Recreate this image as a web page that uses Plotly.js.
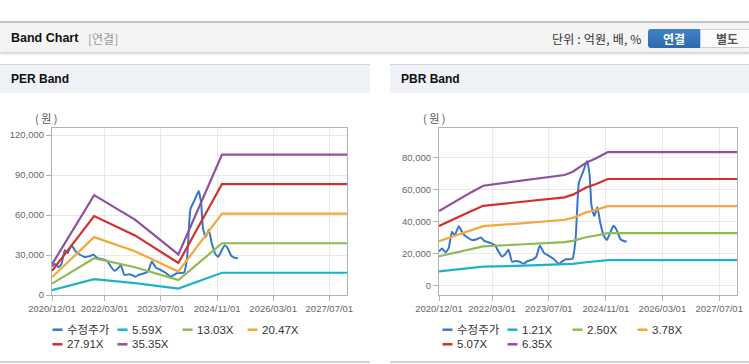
<!DOCTYPE html>
<html>
<head>
<meta charset="utf-8">
<script src="https://cdn.plot.ly/plotly-3.0.1.min.js"></script>
<style>
  html, body { margin:0; padding:0; background:#fff; }
  body { width:749px; height:364px; position:relative; overflow:hidden;
         font-family:"Liberation Sans","Noto Sans CJK KR",Arial,sans-serif; }
  .abs { position:absolute; }
  #topline { left:0; top:21px; width:749px; height:2px; background:#c4c4c4; }
  #hdr { left:0; top:23px; width:749px; height:29px; background:#f4f4f4;
         box-shadow:0 2px 2px rgba(0,0,0,0.18); }
  #hdrTitle { left:11px; top:31px; font-size:12.5px; font-weight:bold; color:#111; }
  #hdrSub { left:88px; top:31px; font-size:12px; color:#9a9a9a; font-family:"Noto Sans CJK KR",sans-serif; line-height:15px; }
  #unit { left:552px; top:30px; font-size:12px; color:#333; font-family:"Noto Sans CJK KR",sans-serif; line-height:17px; letter-spacing:0.2px; }
  #btn1 { left:648px; top:29px; width:52px; height:19px; background:linear-gradient(#3f83c6,#2c6aae);
          border-radius:3px 0 0 3px; color:#fff; font-size:12px; font-weight:bold; text-align:center; line-height:19px;
          font-family:"Noto Sans CJK KR",sans-serif; }
  #btn2 { left:700px; top:29px; width:52px; height:17px; background:#fbfbfb; border:1px solid #cfcfcf;
          color:#555; font-size:12px; font-weight:bold; text-align:center; line-height:17px; padding-right:0;
          font-family:"Noto Sans CJK KR",sans-serif; }
  .ph { top:64px; height:28px; background:#eef1f6; border-top:1px solid #d6d6d6; }
  .phT { top:72px; font-size:12px; font-weight:bold; color:#111; }
  .bl { top:361px; height:2px; background:#d4d4d4; }
  #per { left:0; top:93px; width:370px; height:268px; }
  #pbr { left:390px; top:93px; width:359px; height:268px; }
</style>
</head>
<body>
<div id="topline" class="abs"></div>
<div id="hdr" class="abs"></div>
<div id="hdrTitle" class="abs">Band Chart</div>
<div id="hdrSub" class="abs">[연결]</div>
<div id="unit" class="abs">단위 : 억원, 배, %</div>
<div id="btn1" class="abs">연결</div>
<div id="btn2" class="abs">별도</div>
<div class="abs ph" style="left:0;width:370px;"></div>
<div class="abs phT" style="left:11px;">PER Band</div>
<div class="abs ph" style="left:390px;width:359px;"></div>
<div class="abs phT" style="left:401px;">PBR Band</div>
<div class="abs bl" style="left:0;width:370px;"></div>
<div class="abs bl" style="left:390px;width:359px;"></div>
<div id="per" class="abs"></div>
<div id="pbr" class="abs"></div>
<script>
// ---------- data ----------
const priceDates = ['2020-12-01','2020-12-28','2021-01-25','2021-02-22','2021-03-22','2021-04-15','2021-05-20','2021-06-25',
  '2021-08-05','2021-09-10','2021-10-20','2021-11-25','2021-12-25','2022-02-10','2022-03-25','2022-04-20','2022-05-25',
  '2022-06-20','2022-07-20','2022-08-20','2022-09-25','2022-10-25','2022-11-25','2022-12-25','2023-02-10','2023-03-15',
  '2023-04-15','2023-05-20','2023-06-25','2023-08-15','2023-09-25','2023-10-25','2023-11-25','2024-01-20','2024-02-15',
  '2024-03-15','2024-04-20','2024-05-25','2024-06-15','2024-07-01','2024-07-25','2024-08-20','2024-09-15','2024-10-15',
  '2024-11-10','2024-12-05','2025-01-05','2025-02-01','2025-03-05','2025-04-10','2025-04-30'];
const price = [21500,23200,20800,23500,33700,31500,37200,32500,
  30000,28500,29000,30200,28000,26800,25500,22000,18200,
  19500,22400,15000,15500,15000,13700,15200,16300,18000,
  25200,20500,19000,16500,13600,15200,16500,16900,28500,
  64500,71200,78000,69000,50000,43500,49000,39000,31000,
  28600,32500,37400,35000,29200,27800,27700];

const perDates = ['2020-12-01','2021-12-01','2022-11-20','2023-12-01','2024-12-13','2027-12-01'];
const per559  = [3600, 11900, 8900, 4800, 16700, 16700];
const per1303 = [8500, 27600, 20800, 11200, 38800, 38800];
const per2047 = [13300, 43400, 32800, 17600, 61000, 61000];
const per2791 = [18100, 59200, 44700, 24000, 83200, 83200];
const per3535 = [23000, 74900, 56600, 30400, 105300, 105300];
const perNames = ['수정주가','5.59X','13.03X','20.47X','27.91X','35.35X'];

const pbrDates = ['2020-12-01','2021-03-01','2021-06-01','2021-09-01','2021-12-15','2022-12-01','2023-11-12',
  '2024-01-23','2024-05-16','2024-08-10','2024-11-18','2027-12-01'];
const pbr121 = [8900, 9650, 10450, 11100, 11900, 12500, 13200, 13600, 14650, 15200, 15950, 15950];
const pbr250 = [18400, 19900, 21600, 22950, 24600, 25900, 27250, 28050, 30300, 31350, 32900, 32900];
const pbr378 = [27800, 30100, 32600, 34700, 37200, 39100, 41200, 42400, 45800, 47400, 49700, 49700];
const pbr507 = [37300, 40400, 43750, 46550, 49900, 52500, 55250, 56900, 61400, 63600, 66700, 66700];
const pbr635 = [46700, 50600, 54800, 58300, 62500, 65700, 69200, 71250, 76900, 79600, 83500, 83500];
const pbrNames = ['수정주가','1.21X','2.50X','3.78X','5.07X','6.35X'];

const xTickVals = ['2020-12-01','2022-03-01','2023-07-01','2024-11-01','2026-03-01','2027-07-01'];
const xTickText = ['2020/12/01','2022/03/01','2023/07/01','2024/11/01','2026/03/01','2027/07/01'];
const perYTicks = [0, 30000, 60000, 90000, 120000];
const perYText = ['0','30,000','60,000','90,000','120,000'];
const pbrYTicks = [0, 20000, 40000, 60000, 80000];
const pbrYText = ['0','20,000','40,000','60,000','80,000'];

const colors = ['#3577cc','#1cb3c8','#8dbb4f','#f3a83b','#d3302a','#8f509f'];

// ---------- drawing ----------
const FONT = '"Liberation Sans","Noto Sans CJK KR",Arial,sans-serif';

function build(div, bandDates, bands, names, yTicks, yText, yRange, m, legendStart) {
  const el = document.getElementById(div);
  const W = el.clientWidth, H = el.clientHeight;
  const pw = W - m.l - m.r, ph = H - m.t - m.b;
  const traces = [{x: priceDates, y: price, name: names[0], type: 'scatter', mode: 'lines',
                   line: {color: colors[0], width: 2, shape: 'spline', smoothing: 0.45}, hoverinfo: 'skip'}];
  bands.forEach((b, i) => traces.push({x: bandDates, y: b, name: names[i+1], type: 'scatter', mode: 'lines',
                   line: {color: colors[i+1], width: 2.2}, hoverinfo: 'skip'}));
  const shapes = [], annotations = [];
  names.forEach((n, i) => {
    const row = Math.floor(i / 4), col = i % 4;
    const px = legendStart + col * 65;
    const py = (row === 0 ? 34.7 : 49.3);
    shapes.push({type: 'line', xref: 'paper', yref: 'paper', x0: px / pw, x1: (px + 10) / pw,
                 y0: -py / ph, y1: -py / ph, line: {color: colors[i], width: 2.5}});
    annotations.push({text: n, xref: 'paper', yref: 'paper', x: (px + 12.5) / pw, y: -py / ph,
                      xanchor: 'left', yanchor: 'middle', showarrow: false,
                      font: {family: FONT, size: 11.5, color: '#333'}});
  });
  annotations.push({text: '( 원 )', xref: 'paper', yref: 'paper', x: (m.yLabelX) / pw, y: 1 + 10 / ph,
                    xanchor: 'center', yanchor: 'middle', showarrow: false,
                    font: {family: '"Noto Sans CJK KR",sans-serif', size: 11, color: '#555'}});
  const axisCommon = {showline: true, mirror: true, linecolor: '#b3b3b3', linewidth: 1,
                      gridcolor: '#e9e9e9', gridwidth: 1, ticks: 'outside', ticklen: 5, tickcolor: '#b3b3b3',
                      tickfont: {family: FONT, size: 9.5, color: '#666'}, zeroline: false, fixedrange: true};
  const layout = {
    width: W, height: H, margin: {l: m.l, r: m.r, t: m.t, b: m.b},
    paper_bgcolor: 'rgba(0,0,0,0)', plot_bgcolor: '#fff', showlegend: false,
    xaxis: Object.assign({}, axisCommon, {type: 'date', range: ['2020-12-01', '2027-12-01'],
                          tickmode: 'array', tickvals: xTickVals, ticktext: xTickText}),
    yaxis: Object.assign({}, axisCommon, {range: yRange, tickmode: 'array', tickvals: yTicks, ticktext: yText}),
    shapes: shapes, annotations: annotations
  };
  Plotly.newPlot(el, traces, layout, {staticPlot: true, displayModeBar: false});
}

build('per', perDates, [per559, per1303, per2047, per2791, per3535], perNames,
      perYTicks, perYText, [0, 125250], {l: 52, r: 23, t: 35, b: 66, yLabelX: -6}, 0.5);
build('pbr', pbrDates, [pbr121, pbr250, pbr378, pbr507, pbr635], pbrNames,
      pbrYTicks, pbrYText, [-5810, 98560], {l: 49, r: 12, t: 35, b: 66, yLabelX: -5}, 3.5);
</script>
</body>
</html>
